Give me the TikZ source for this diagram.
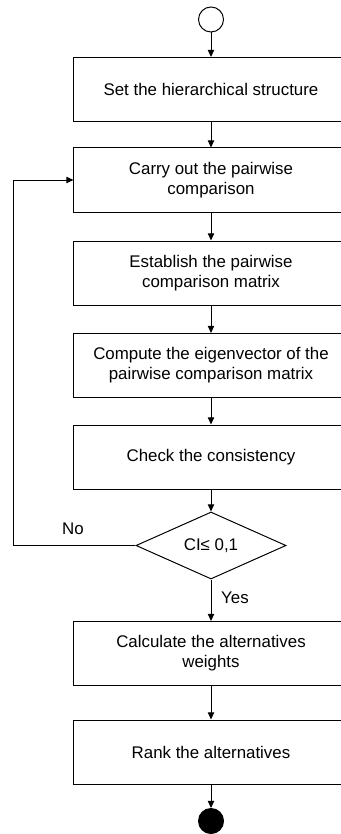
\documentclass[tikz,border=0pt]{standalone}
\usepackage{fontspec}
\setmainfont{Liberation Sans}
\usetikzlibrary{arrows.meta}
\usetikzlibrary{shapes.geometric}

\begin{document}
\begin{tikzpicture}[x=0.025cm, y=-0.025cm, line width=0.7pt,
    >={Triangle[length=0.18cm, width=0.16cm]},
    txt/.style={font=\fontsize{12}{14.2}\selectfont},
    box/.style={draw, txt, align=center, minimum width=6.85cm, minimum height=1.6cm},
    test/.style={draw, txt, diamond, inner sep=0pt, aspect=2.24, minimum width=3.75cm, minimum height=1.675cm},
    term/.style={draw, circle, inner sep=0pt, minimum size=0.625cm}]
      \useasboundingbox (0,0) rectangle (341,834);

      \node[term] (start) at (211,19.5) {};
      \node[box] (B1) at (211,89.5) {Set the hierarchical structure};
      \node[box] (B2) at (211,180) {Carry out the pairwise\\comparison};
      \node[box] (B3) at (211,273) {Establish the pairwise\\comparison matrix};
      \node[box] (B4) at (211,365.5) {Compute the eigenvector of the\\pairwise comparison matrix};
      \node[box] (B5) at (211,457) {Check the consistency};
      \node[test] (D1) at (211,545.5) {CI≤ 0,1};
      \node[box] (B6) at (211,653.5) {Calculate the alternatives\\weights};
      \node[box] (B7) at (211,752) {Rank the alternatives};
      \node[term, fill=black] (stop) at (211,821) {};

      \node[txt] (no) at (73,529) {No};
      \node[txt] (yes) at (235,598) {Yes};

      \coordinate (C1) at (13,545.5);

      \draw[->] (start) -- (B1);
      \draw[->] (B1) -- (B2);
      \draw[->] (B2) -- (B3);
      \draw[->] (B3) -- (B4);
      \draw[->] (B4) -- (B5);
      \draw[->] (B5) -- (D1);
      \draw[->] (D1) -- (B6);
      \draw[->] (B6) -- (B7);
      \draw[->] (B7) -- (stop);

      \draw[->] (D1.west) -- (C1) |- (B2.west);
    \end{tikzpicture}
\end{document}
